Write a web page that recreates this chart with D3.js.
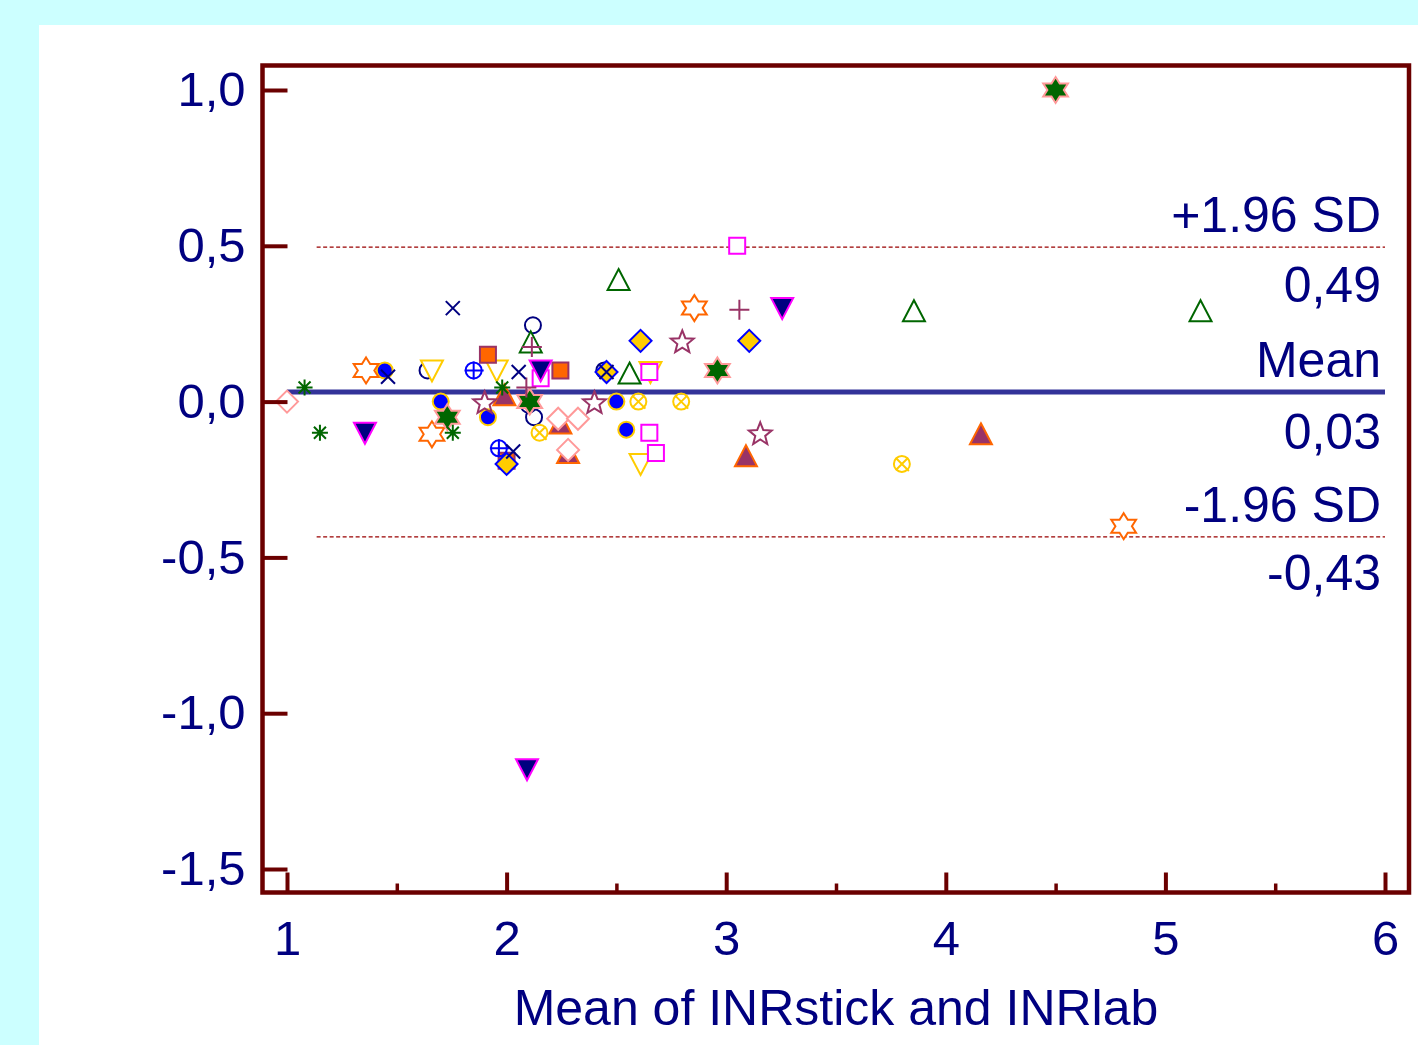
<!DOCTYPE html>
<html><head><meta charset="utf-8">
<script src="https://cdn.jsdelivr.net/npm/d3@7"></script>
<style>
html,body{margin:0;padding:0;background:#CCFFFF;}
svg{display:block;}
</style></head>
<body>
<svg id="chart" width="1418" height="1045"></svg>
<script>
// ---------- DATA ----------
const xTicks = [1, 2, 3, 4, 5, 6];
const xMinorTicks = [1.5, 2.5, 3.5, 4.5, 5.5];
const yTicks = [1.0, 0.5, 0.0, -0.5, -1.0, -1.5];
const meanDiff = 0.031;
const upperLimit = 0.496;
const lowerLimit = -0.434;
const refLabels = ["+1.96 SD", "0,49", "Mean", "0,03", "-1.96 SD", "-0,43"];
const xTitle = "Mean of INRstick and INRlab";

// series: [mean of INRstick and INRlab, difference]
const pinkDiamond   = [[1.00, 0.00], [2.235, -0.055], [2.325, -0.055], [2.28, -0.155]];
const purpleTriUp   = [[1.99, 0.02], [2.245, -0.07], [2.28, -0.165], [3.09, -0.175], [4.16, -0.105]];
const greenAsterisk = [[1.08, 0.045], [1.15, -0.10], [1.755, -0.10], [1.98, 0.045]];
const navyCircle    = [[1.64, 0.10], [2.12, 0.245], [2.125, -0.05], [2.10, -0.01], [2.445, 0.10]];
const navyTriDown   = [[1.355, -0.10], [2.155, 0.10], [3.255, 0.30], [2.093, -1.18]];
const orangeStar6   = [[1.36, 0.10], [1.66, -0.105], [2.855, 0.30], [4.81, -0.40]];
const blueDot       = [[1.445, 0.10], [1.70, 0.00], [1.915, -0.05], [2.50, 0.00], [2.545, -0.09]];
const yellowTriDown = [[1.66, 0.10], [1.955, 0.10], [2.61, -0.20], [2.655, 0.095]];
const greenStar6    = [[1.73, -0.05], [2.105, 0.00], [2.96, 0.10], [4.50, 1.00]];
const bluePlusCircle= [[1.85, 0.10], [1.965, -0.15]];
const orangeSquare  = [[1.915, 0.15], [2.245, 0.10], [2.00, -0.19]];
const purpleStar5   = [[1.90, -0.005], [2.40, -0.005], [2.80, 0.19], [3.155, -0.105]];
const goldDiamond   = [[2.00, -0.20], [2.455, 0.095], [2.61, 0.195], [3.105, 0.195]];
const greenTriOpen  = [[2.11, 0.19], [2.51, 0.39], [2.56, 0.09], [3.855, 0.29], [5.16, 0.29]];
const purplePlus    = [[2.115, 0.175], [2.09, 0.045], [3.06, 0.295]];
const magentaSquare = [[2.155, 0.075], [2.65, -0.10], [2.68, -0.165], [2.65, 0.095], [3.05, 0.50]];
const yellowCircleX = [[2.15, -0.10], [2.60, 0.00], [2.795, 0.00], [3.80, -0.20]];
const navyCross     = [[1.46, 0.08], [1.755, 0.30], [2.03, -0.16], [2.055, 0.095], [2.455, 0.095]];

// ---------- STYLES ----------
const seriesList = [
  {data: purpleTriUp,    shape: "triUp",     fill: "#993366", stroke: "#FF6600"},
  {data: pinkDiamond,    shape: "diamond",   fill: "#FFFFFF", stroke: "#FF9999"},
  {data: navyCircle,     shape: "circle",    fill: "none",    stroke: "#000080"},
  {data: yellowTriDown,  shape: "triDown",   fill: "#FFFFFF", stroke: "#FFCC00"},
  {data: orangeSquare,   shape: "square",    fill: "#FF6600", stroke: "#993366"},
  {data: blueDot,        shape: "dot",       fill: "#0000FF", stroke: "#FFCC00"},
  {data: orangeStar6,    shape: "star6",     fill: "#FFFFFF", stroke: "#FF6600"},
  {data: greenStar6,     shape: "star6",     fill: "#006600", stroke: "#FF9999"},
  {data: purpleStar5,    shape: "star5",     fill: "none",    stroke: "#993366"},
  {data: magentaSquare,  shape: "square",    fill: "#FFFFFF", stroke: "#FF00FF"},
  {data: navyTriDown,    shape: "triDown",   fill: "#000080", stroke: "#FF00FF"},
  {data: goldDiamond,    shape: "diamond",   fill: "#FFCC00", stroke: "#0000FF"},
  {data: greenTriOpen,   shape: "triUp",     fill: "#FFFFFF", stroke: "#006600"},
  {data: bluePlusCircle, shape: "circlePlus",fill: "none",    stroke: "#0000FF"},
  {data: yellowCircleX,  shape: "circleX",   fill: "none",    stroke: "#FFCC00"},
  {data: purplePlus,     shape: "plus",      fill: "none",    stroke: "#993366"},
  {data: greenAsterisk,  shape: "asterisk",  fill: "none",    stroke: "#006600"},
  {data: navyCross,      shape: "cross",     fill: "none",    stroke: "#000080"}
];

function starPath(n, rOut, rIn, sx) {
  let d = "";
  for (let i = 0; i < 2 * n; i++) {
    const r = i % 2 === 0 ? rOut : rIn;
    const a = -Math.PI / 2 + i * Math.PI / n;
    d += (i ? "L" : "M") + (r * Math.cos(a) * sx).toFixed(2) + "," + (r * Math.sin(a)).toFixed(2);
  }
  return d + "Z";
}
function shapePaths(shape) {
  switch (shape) {
    case "diamond": return ["M0,-11L11,0L0,11L-11,0Z"];
    case "triUp": return ["M0,-11L11,10L-11,10Z"];
    case "triDown": return ["M0,11L11,-10L-11,-10Z"];
    case "square": return ["M-8,-8H8V8H-8Z"];
    case "dot":
    case "circle": return ["M8,0A8,8 0 1,1 -8,0A8,8 0 1,1 8,0Z"];
    case "circlePlus": return ["M8,0A8,8 0 1,1 -8,0A8,8 0 1,1 8,0Z", "M-9,0H10M0,-9V9"];
    case "circleX": return ["M8,0A8,8 0 1,1 -8,0A8,8 0 1,1 8,0Z", "M-6,-6L7,7M6,-6L-6,6"];
    case "plus": return ["M-10,0H10M0,-10V10"];
    case "cross": return ["M-7,-7L7,7M7,-7L-7,7"];
    case "asterisk": return ["M-8,0H8M0,-8V8M-6,-6L6,6M6,-6L-6,6"];
    case "star6": return [starPath(6, 13, 7.5, 1.1)];
    case "star5": return [starPath(5, 12, 5.2, 1)];
  }
}

// ---------- LAYOUT ----------
const svg = d3.select("#chart");
svg.append("rect").attr("x", 39).attr("y", 25).attr("width", 1418 - 39).attr("height", 1045 - 25).attr("fill", "#FFFFFF");

const frame = {left: 262.5, top: 65.5, right: 1409, bottom: 892.5};
const x = d3.scaleLinear().domain([1, 6]).range([287, 1385]);
const y = d3.scaleLinear().domain([-1.5, 1.0]).range([869, 90]);

const locale = d3.formatLocale({decimal: ",", thousands: ".", grouping: [3], currency: ["", ""], minus: "-"});
const fmt = locale.format(".1f");
const FONT = "'Liberation Sans', Arial, sans-serif";
const TXT = "#000080";
const AXC = "#6B0000";

// reference lines
const xEnd = 6;
svg.append("line").attr("x1", x(1.135)).attr("x2", x(xEnd)).attr("y1", y(upperLimit)).attr("y2", y(upperLimit))
  .attr("stroke", "#990000").attr("stroke-width", 1.3).attr("stroke-dasharray", "4,2.5");
svg.append("line").attr("x1", x(1.135)).attr("x2", x(xEnd)).attr("y1", y(lowerLimit)).attr("y2", y(lowerLimit))
  .attr("stroke", "#990000").attr("stroke-width", 1.3).attr("stroke-dasharray", "4,2.5");
svg.append("line").attr("x1", x(1)).attr("x2", x(xEnd)).attr("y1", y(meanDiff)).attr("y2", y(meanDiff))
  .attr("stroke", "#333399").attr("stroke-width", 5);

// points
const pts = svg.append("g");
seriesList.forEach(s => {
  const paths = shapePaths(s.shape);
  const g = pts.selectAll(null).data(s.data).enter().append("g")
    .attr("transform", d => `translate(${x(d[0])},${y(d[1])})`);
  paths.forEach((p, i) => {
    g.append("path").attr("d", p)
      .attr("fill", i === 0 ? s.fill : "none")
      .attr("stroke", s.stroke).attr("stroke-width", 2);
  });
});

// frame
svg.append("rect").attr("x", frame.left).attr("y", frame.top)
  .attr("width", frame.right - frame.left).attr("height", frame.bottom - frame.top)
  .attr("fill", "none").attr("stroke", AXC).attr("stroke-width", 4.5);

// axes
const xAxis = svg.append("g").attr("transform", `translate(0,${frame.bottom})`)
  .call(d3.axisBottom(x).tickValues(xTicks).tickSize(-20).tickPadding(28).tickFormat(d3.format("d")));
const xMinor = svg.append("g").attr("transform", `translate(0,${frame.bottom})`)
  .call(d3.axisBottom(x).tickValues(xMinorTicks).tickSize(-9).tickFormat(""));
const yAxis = svg.append("g").attr("transform", `translate(${frame.left},0)`)
  .call(d3.axisLeft(y).tickValues(yTicks).tickSize(-25).tickPadding(17).tickFormat(fmt));
[xAxis, xMinor, yAxis].forEach(a => {
  a.select(".domain").remove();
  a.selectAll(".tick line").attr("stroke", AXC).attr("stroke-width", 4);
  a.selectAll("text").attr("fill", TXT).style("font-family", FONT).style("font-size", "49px");
});
xMinor.selectAll(".tick line").attr("stroke-width", 3.5);

// axis title
svg.append("text").attr("x", (x(1) + x(6)) / 2).attr("y", 1025).attr("text-anchor", "middle")
  .attr("fill", TXT).style("font-family", FONT).style("font-size", "50px").text(xTitle);

// reference line labels
const labelRight = 1381;
const labelPos = [
  [y(upperLimit) - 15, 0], [y(upperLimit) + 55, 1],
  [y(meanDiff) - 15, 2], [y(meanDiff) + 57, 3],
  [y(lowerLimit) - 15, 4], [y(lowerLimit) + 53, 5]
];
svg.selectAll(null).data(labelPos).enter().append("text")
  .attr("x", labelRight).attr("y", d => d[0]).attr("text-anchor", "end")
  .attr("fill", TXT).style("font-family", FONT).style("font-size", "50px")
  .text(d => refLabels[d[1]]);
</script>
</body></html>
